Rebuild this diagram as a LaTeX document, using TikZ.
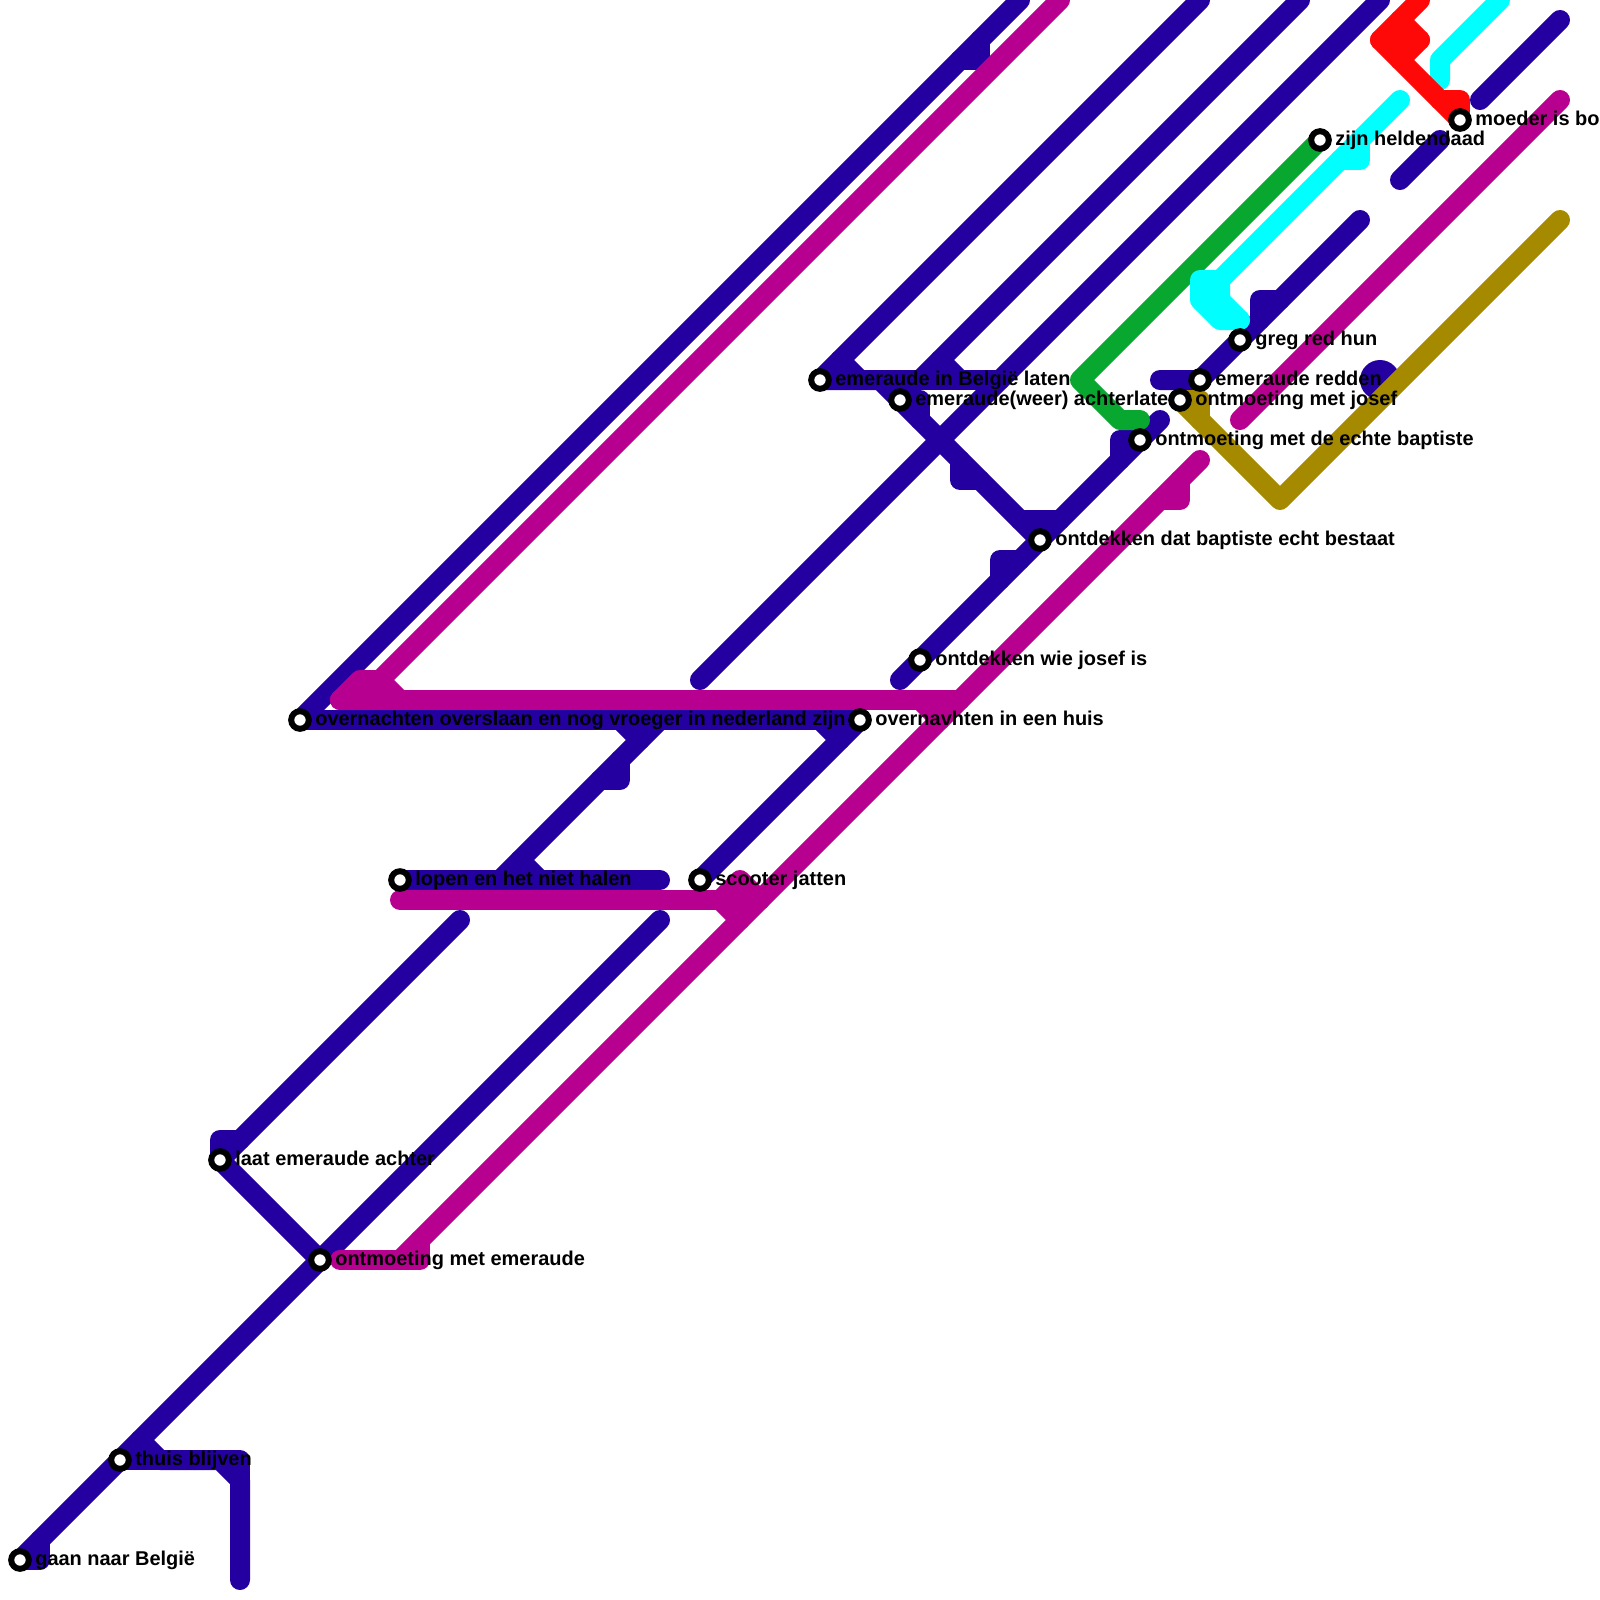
\documentclass[tikz,border=0pt]{standalone}
\usepackage{fontspec}
\setmainfont{Liberation Sans}
\usetikzlibrary{backgrounds}
\definecolor{lineblue}{RGB}{36,0,160}
\definecolor{linemagenta}{RGB}{184,0,144}
\definecolor{linegreen}{RGB}{8,168,48}
\definecolor{linecyan}{RGB}{0,255,255}
\definecolor{linered}{RGB}{255,8,8}
\definecolor{lineolive}{RGB}{165,138,0}

\begin{document}
\begin{tikzpicture}[
    x=0.25cm, y=-0.25cm,
    station/.style={circle, draw=black, fill=white, line width=0.75mm, minimum size=2.2mm, inner sep=0pt},
    stoptext/.style={font=\fontsize{7.1}{8}\selectfont\bfseries, inner sep=0pt, text height=1.7mm, text depth=0.5mm, xshift=0.37mm, yshift=-0.05mm},
    route/.style={line width=2.5mm, line cap=round, line join=round}
]
\useasboundingbox (0,0) rectangle (80,80);

\node[station, label={[stoptext]right:gaan naar België}] (gaan) at (1,78) {};
\node[station, label={[stoptext]right:thuis blijven}] (thuis) at (6,73) {};
\node[station, label={[stoptext]right:laat emeraude achter}] (laat) at (11,58) {};
\node[station, label={[stoptext]right:ontmoeting met emeraude}] (emeraude) at (16,63) {};
\node[station, label={[stoptext]right:lopen en het niet halen}] (lopen) at (20,44) {};
\node[station, label={[stoptext]right:overnachten overslaan en nog vroeger in nederland zijn}] (overslaan) at (15,36) {};
\node[station, label={[stoptext]right:scooter jatten}] (scooter) at (35,44) {};
\node[station, label={[stoptext]right:overnavhten in een huis}] (huis) at (43,36) {};
\node[station, label={[stoptext]right:emeraude in België laten}] (laten) at (41,19) {};
\node[station, label={[stoptext]right:emeraude(weer) achterlate}] (achterlate) at (45,20) {};
\node[station, label={[stoptext]right:ontdekken wie josef is}] (wiejosef) at (46,33) {};
\node[station, label={[stoptext]right:ontdekken dat baptiste echt bestaat}] (bestaat) at (52,27) {};
\node[station, label={[stoptext]right:ontmoeting met de echte baptiste}] (baptiste) at (57,22) {};
\node[station, label={[stoptext]right:ontmoeting met josef}] (josef) at (59,20) {};
\node[station, label={[stoptext]right:emeraude redden}] (redden) at (60,19) {};
\node[station, label={[stoptext]right:greg red hun}] (greg) at (62,17) {};
\node[station, label={[stoptext]right:zijn heldendaad}] (held) at (66,7) {};
\node[station, label={[stoptext]right:moeder is bo}] (moeder) at (73,6) {};

\begin{scope}[on background layer]
\draw[route, lineblue] (gaan.center) -- (33,46);
\draw[route, lineblue] (gaan.center) -- (2,78) -- (2,77);
\draw[route, lineblue] (thuis.center) -- (12,73) -- (12,74);
\draw[route, lineblue] (7,72) -- (8,73) -- (11,73) -- (12,74) -- (12,79);
\draw[route, lineblue] (laat.center) -- (23,46);
\draw[route, lineblue] (laat.center) -- (11,57) -- (12,57);
\draw[route, lineblue] (laat.center) -- (emeraude.center);
\draw[route, lineblue] (lopen.center) -- (33,44);
\draw[route, lineblue] (25,44) -- (33,36);
\draw[route, lineblue] (30,39) -- (31,39) -- (31,38);
\draw[route, lineblue] (26,43) -- (27,44);
\draw[route, lineblue] (31,36) -- (32,37);
\draw[route, lineblue] (overslaan.center) -- (huis.center);
\draw[route, lineblue] (overslaan.center) -- (51,0);
\draw[route, lineblue] (48,3) -- (49,3) -- (49,2);
\draw[route, lineblue] (scooter.center) -- (huis.center);
\draw[route, lineblue] (41,36) -- (42,37);
\draw[route, lineblue] (laten.center) -- (44,19) -- (bestaat.center);
\draw[route, lineblue] (achterlate.center) -- (46,20) -- (46,21);
\draw[route, lineblue] (48,23) -- (48,24) -- (49,24);
\draw[route, lineblue] (51,26) -- (53,26);
\draw[route, lineblue] (laten.center) -- (60,0);
\draw[route, lineblue] (42,18) -- (43,19);
\draw[route, lineblue] (laten.center) -- (50,19);
\draw[route, lineblue] (46,19) -- (47,18) -- (48,19);
\draw[route, lineblue] (47,18) -- (65,0);
\draw[route, lineblue] (35,34) -- (69,0);
\draw[route, lineblue] (45,34) -- (58,21);
\draw[route, lineblue] (50,29) -- (50,28) -- (51,28);
\draw[route, lineblue] (56,23) -- (56,22) -- (baptiste.center);
\draw[route, lineblue] (58,19) -- (redden.center) -- (68,11);
\draw[route, lineblue] (63,16) -- (63,15) -- (64,15);
\draw[route, lineblue] (70,9) -- (72,7);
\draw[route, lineblue] (74,5) -- (78,1);
\fill[lineblue] (69,19) circle (1);

\draw[route, linemagenta] (20,63) -- (60,23);
\draw[route, linemagenta] (17,63) -- (21,63) -- (21,62);
\draw[route, linemagenta] (58,25) -- (59,25) -- (59,24);
\draw[route, linemagenta] (17,35) -- (18,34) -- (19,34) -- (53,0);
\draw[route, linemagenta] (19,34) -- (20,35);
\draw[route, linemagenta] (17,35) -- (48,35);
\draw[route, linemagenta] (46,35) -- (47,36);
\draw[route, linemagenta] (20,45) -- (38,45);
\draw[route, linemagenta] (36,45) -- (37,44) -- (38,45);
\draw[route, linemagenta] (36,45) -- (37,46);
\draw[route, linemagenta] (62,21) -- (78,5);

\draw[route, linegreen] (held.center) -- (54,19) -- (56,21) -- (57,21);

\draw[route, linecyan] (70,5) -- (61,14);
\draw[route, linecyan] (68,7) -- (68,8) -- (67,8);
\draw[route, linecyan] (61,14) -- (60,14) -- (60,15) -- (61,16) -- (62,16);
\draw[route, linecyan] (62,16) -- (61,15) -- (61,14);
\draw[route, linecyan] (75,0) -- (72,3) -- (72,4);

\draw[route, linered] (moeder.center) -- (69,2) -- (71,0);
\draw[route, linered] (70,1) -- (71,2) -- (70,3);
\draw[route, linered] (69,2) -- (71,2);
\draw[route, linered] (72,5) -- (73,5) -- (moeder.center);

\draw[route, lineolive] (josef.center) -- (64,25) -- (78,11);
\draw[route, lineolive] (josef.center) -- (60,20) -- (60,21);
\end{scope}
\end{tikzpicture}
\end{document}
